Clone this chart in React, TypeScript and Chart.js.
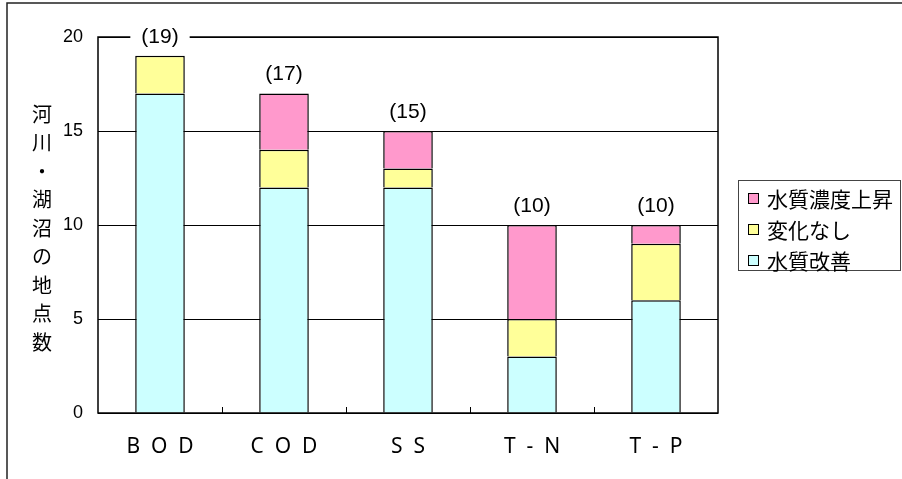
import React, { useEffect, useRef } from "react";
import { Chart, registerables } from "chart.js";

Chart.register(...registerables);

const categories = ["B  O  D", "C  O  D", "S  S", "T  -  N", "T  -  P"];
const improved = [17, 12, 12, 3, 6];
const unchanged = [2, 2, 1, 2, 3];
const worsened = [0, 3, 2, 5, 1];
const totals = [19, 17, 15, 10, 10];
const seriesNames = ["水質改善", "変化なし", "水質濃度上昇"];
const seriesColors = ["#CCFFFF", "#FFFF99", "#FF99CC"];
const yTitle = "河川・湖沼の地点数";
const yTicks = [0, 5, 10, 15, 20];

const CJK = '"Noto Sans CJK JP", "Noto Sans", sans-serif';
const LATIN = '"Liberation Sans", Arial, sans-serif';

const decorPlugin = {
  id: "decor",
  afterDatasetsDraw(chart: any) {
    const { ctx, chartArea: a, scales } = chart;
    const x = scales.x;
    const y = scales.y;
    ctx.save();
    // outer frame (cropped on right & bottom)
    ctx.strokeStyle = "#222";
    ctx.lineWidth = 1.5;
    ctx.beginPath();
    ctx.moveTo(7, 479);
    ctx.lineTo(7, 3);
    ctx.lineTo(902, 3);
    ctx.stroke();

    // plot frame
    ctx.strokeStyle = "#000";
    ctx.lineWidth = 1.5;
    ctx.strokeRect(a.left, a.top, a.right - a.left, a.bottom - a.top);

    // inward ticks between categories
    ctx.lineWidth = 1;
    ctx.beginPath();
    for (let i = 0; i < categories.length - 1; i++) {
      const px = Math.round((x.getPixelForValue(i) + x.getPixelForValue(i + 1)) / 2) + 0.5;
      ctx.moveTo(px, a.bottom);
      ctx.lineTo(px, a.bottom - 6);
    }
    ctx.stroke();

    // total labels
    ctx.font = `21px ${LATIN}`;
    ctx.textAlign = "center";
    ctx.textBaseline = "middle";
    totals.forEach((t, i) => {
      const px = x.getPixelForValue(i);
      const py = y.getPixelForValue(t) - 19;
      const txt = `(${t})`;
      const w = ctx.measureText(txt).width + 22;
      ctx.fillStyle = "#fff";
      ctx.fillRect(px - w / 2, py - 10, w, 20);
      ctx.fillStyle = "#000";
      ctx.fillText(txt, px, py);
    });

    // y axis title, vertical
    ctx.font = `20px ${CJK}`;
    ctx.fillStyle = "#000";
    const chars = Array.from(yTitle);
    chars.forEach((c, i) => {
      ctx.fillText(c, 42, 114 + i * 28.5);
    });

    // legend
    const lx = 738, ly = 180, lw = 162, lh = 90;
    ctx.fillStyle = "#fff";
    ctx.fillRect(lx, ly, lw, lh);
    ctx.strokeStyle = "#444";
    ctx.lineWidth = 1;
    ctx.strokeRect(lx + 0.5, ly + 0.5, lw, lh);
    const order = [2, 1, 0];
    ctx.textAlign = "left";
    ctx.font = `21px ${CJK}`;
    order.forEach((si, r) => {
      const cy = 198 + r * 31;
      ctx.fillStyle = seriesColors[si];
      ctx.fillRect(748, cy - 5, 10, 10);
      ctx.strokeStyle = "#000";
      ctx.strokeRect(748.5, cy - 4.5, 10, 10);
      ctx.fillStyle = "#000";
      ctx.fillText(seriesNames[si], 767, cy + 1);
    });
    ctx.restore();
  },
};

export default function App() {
  const ref = useRef<HTMLCanvasElement | null>(null);
  useEffect(() => {
    if (!ref.current) return;
    const series = [improved, unchanged, worsened];
    const chart = new Chart(ref.current, {
      type: "bar",
      data: {
        labels: categories,
        datasets: series.map((d, i) => ({
          label: seriesNames[i],
          data: d.map((v) => (v === 0 ? null : v)),
          backgroundColor: seriesColors[i],
          borderColor: "#000",
          borderWidth: 1.5,
          borderSkipped: "start",
          barPercentage: 0.4,
          categoryPercentage: 1,
        })),
      },
      options: {
        responsive: false,
        animation: false,
        devicePixelRatio: 1,
        layout: { padding: { left: 0, top: 37, right: 184, bottom: 0 } },
        plugins: { legend: { display: false }, tooltip: { enabled: false } },
        scales: {
          x: {
            stacked: true,
            grid: { display: false, drawTicks: false },
            border: { display: false },
            ticks: {
              padding: 21,
              color: "#000",
              font: { family: '"Noto Sans", sans-serif', size: 21 },
              maxRotation: 0,
            },
            afterFit: (s: any) => {
              s.height = 66;
            },
          },
          y: {
            stacked: true,
            min: 0,
            max: 20,
            afterBuildTicks: (s: any) => {
              s.ticks = yTicks.map((v) => ({ value: v }));
            },
            grid: { color: "#000", lineWidth: 1, drawTicks: false },
            border: { display: false },
            ticks: {
              padding: 15,
              color: "#000",
              font: { family: LATIN, size: 18 },
            },
            afterFit: (s: any) => {
              s.width = 98;
            },
          },
        },
      },
      plugins: [decorPlugin],
    });
    return () => chart.destroy();
  }, []);
  return (
    <div style={{ position: "fixed", left: 0, top: 0, width: 902, height: 479, background: "#fff" }}>
      <canvas ref={ref} width={902} height={479} style={{ display: "block" }} />
    </div>
  );
}
